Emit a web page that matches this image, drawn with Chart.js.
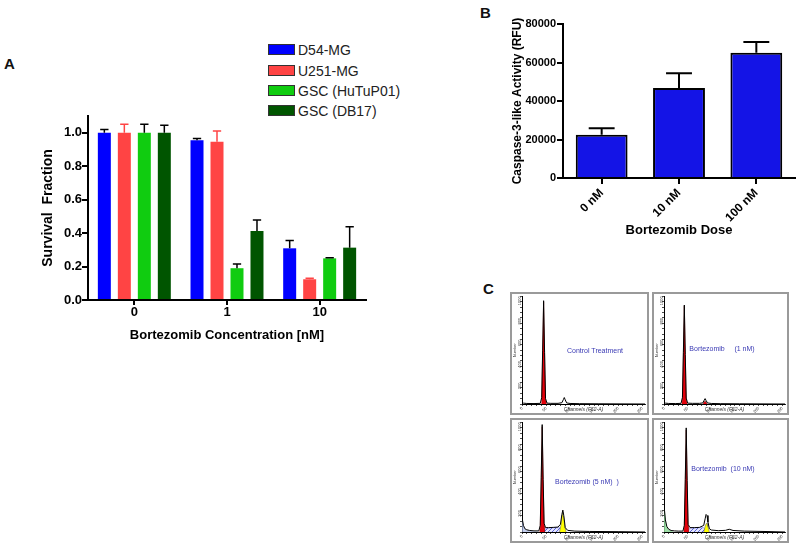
<!DOCTYPE html>
<html>
<head>
<meta charset="utf-8">
<script src="https://cdn.jsdelivr.net/npm/chart.js"></script>
<style>
body { margin: 0; background: #fff; width: 800px; height: 547px; position: relative; overflow: hidden; font-family: 'Liberation Sans', Arial, sans-serif; }
canvas { position: absolute; }
.letter { position: absolute; font-weight: bold; font-size: 15px; color: #111; }
.leg { position: absolute; left: 268px; height: 11px; display: flex; align-items: center; font-size: 14px; color: #222; white-space: nowrap; }
.leg span { display: inline-block; width: 25px; height: 9px; border: 1px solid #333; margin-right: 3px; }
.box { position: absolute; border: 2px solid #9a9a9a; box-sizing: border-box; }
.box canvas { left: 0; top: 0; }
.hlabel { position: absolute; font-size: 7px; color: #3a3ab4; white-space: pre; transform: translate(-50%, -50%); }
</style>
</head>
<body>
<div class="letter" style="left:4px;top:55px">A</div>
<div class="letter" style="left:480px;top:4px">B</div>
<div class="letter" style="left:483px;top:280px">C</div>

<div class="leg" style="top:44px"><span style="background:#0000ff"></span>D54-MG</div>
<div class="leg" style="top:65px"><span style="background:#ff4444"></span>U251-MG</div>
<div class="leg" style="top:85px"><span style="background:#10cc10"></span>GSC (HuTuP01)</div>
<div class="leg" style="top:105px"><span style="background:#005500"></span>GSC (DB17)</div>

<canvas id="chartA" width="400" height="250" style="left:0;top:100px"></canvas>
<canvas id="chartB" width="380" height="250" style="left:420px;top:0"></canvas>

<div class="box" style="left:510px;top:292px;width:139px;height:123px"><canvas id="h1" width="135" height="119"></canvas></div>
<div class="box" style="left:652px;top:292px;width:137px;height:123px"><canvas id="h2" width="133" height="119"></canvas></div>
<div class="box" style="left:510px;top:418px;width:139px;height:125px"><canvas id="h3" width="135" height="121"></canvas></div>
<div class="box" style="left:652px;top:418px;width:137px;height:125px"><canvas id="h4" width="133" height="121"></canvas></div>

<div class="hlabel" style="left:595px;top:350px">Control Treatment</div>
<div class="hlabel" style="left:722px;top:348px">Bortezomib     (1 nM)</div>
<div class="hlabel" style="left:587px;top:481px">Bortezomib (5 nM)  )</div>
<div class="hlabel" style="left:723px;top:468px">Bortezomib  (10 nM)</div>

<script>
// panel A - survival fraction
const concLabels = ['0', '1', '10'];
const d54 = [1.0, 0.955, 0.309];
const d54Err = [0.02, 0.011, 0.046];
const u251 = [1.0, 0.946, 0.124];
const u251Err = [0.05, 0.064, 0.006];
const hutu = [1.0, 0.19, 0.249];
const hutuErr = [0.05, 0.025, 0.004];
const db17 = [1.0, 0.412, 0.313];
const db17Err = [0.045, 0.066, 0.125];

// panel B - caspase activity
const doseLabels = ['0 nM', '10 nM', '100 nM'];
const caspase = [22500, 46700, 65100];
const caspaseErr = [3300, 7700, 5550];

// panel C - DNA histograms (channel, count)
const ctrlCh = [0, 3, 10, 25, 38, 41, 43, 45, 47, 49, 52, 60, 75, 83, 86, 88, 90, 93, 100, 120, 160, 256];
const ctrlCt = [15, 8, 5, 4, 6, 60, 500, 960, 480, 50, 8, 6, 6, 12, 40, 60, 38, 10, 5, 3, 2, 0];
const ctrlG1Ch = [40, 41, 43, 45, 47, 49, 51];
const ctrlG1Ct = [0, 55, 490, 950, 470, 45, 0];

const nm1Ch = [0, 3, 10, 25, 36, 39, 41, 43, 45, 47, 50, 60, 75, 82, 85, 87, 89, 92, 100, 120, 160, 256];
const nm1Ct = [12, 8, 5, 4, 6, 60, 480, 920, 460, 55, 8, 6, 6, 10, 35, 50, 33, 10, 5, 3, 2, 0];
const nm1G1Ch = [38, 39, 41, 43, 45, 47, 49];
const nm1G1Ct = [0, 55, 470, 910, 450, 50, 0];
const nm1G2Ch = [82, 85, 87, 89, 92];
const nm1G2Ct = [0, 20, 30, 18, 0];

const nm5Ch = [0, 1, 3, 6, 10, 16, 25, 35, 38, 40, 42, 44, 46, 49, 55, 65, 75, 80, 83, 85, 87, 90, 95, 110, 140, 200, 256];
const nm5Ct = [140, 110, 60, 30, 20, 14, 10, 10, 60, 500, 980, 480, 80, 40, 40, 42, 45, 70, 160, 200, 150, 40, 15, 8, 5, 3, 0];
const nm5G1Ch = [37, 38, 40, 42, 44, 46, 47];
const nm5G1Ct = [0, 50, 480, 960, 470, 60, 0];
const nm5SCh = [44, 50, 60, 70, 80, 86];
const nm5SCt = [0, 35, 38, 40, 38, 0];
const nm5G2Ch = [78, 81, 83, 85, 87, 89, 92];
const nm5G2Ct = [0, 60, 140, 180, 130, 50, 0];
const nm5DebCh = [0, 1, 3, 6, 10, 16, 25, 35];
const nm5DebCt = [130, 100, 55, 25, 15, 10, 5, 0];

const nm10Ch = [0, 1, 3, 6, 10, 15, 22, 30, 40, 43, 45, 47, 49, 51, 55, 65, 75, 84, 87, 89, 91, 93, 96, 100, 115, 130, 138, 146, 170, 220, 256];
const nm10Ct = [240, 200, 110, 50, 25, 14, 10, 8, 8, 60, 480, 950, 470, 70, 40, 40, 42, 60, 120, 160, 150, 90, 30, 18, 12, 15, 25, 14, 8, 4, 0];
const nm10G1Ch = [42, 43, 45, 47, 49, 51, 52];
const nm10G1Ct = [0, 55, 460, 930, 450, 60, 0];
const nm10SCh = [49, 55, 65, 75, 85, 90];
const nm10SCt = [0, 35, 38, 40, 38, 0];
const nm10G2Ch = [84, 87, 89, 91, 93, 96];
const nm10G2Ct = [0, 50, 75, 80, 50, 0];
const nm10DebCh = [0, 1, 3, 6, 10, 15, 20];
const nm10DebCt = [230, 190, 100, 45, 20, 8, 0];

Chart.defaults.font.family = "'Liberation Sans', Arial, sans-serif";
Chart.defaults.color = '#000';

// upward error bars with a cap
const errorBars = {
  id: 'errorBars',
  afterDatasetsDraw(chart, args, opts) {
    const ctx = chart.ctx;
    const y = chart.scales.y;
    chart.data.datasets.forEach((ds, i) => {
      if (!ds.errors) return;
      chart.getDatasetMeta(i).data.forEach((bar, j) => {
        const top = y.getPixelForValue(ds.data[j] + ds.errors[j]);
        const half = bar.width * opts.cap;
        ctx.save();
        ctx.strokeStyle = ds.errorColor || '#000';
        ctx.lineWidth = opts.lineWidth;
        ctx.beginPath();
        ctx.moveTo(bar.x, bar.y);
        ctx.lineTo(bar.x, top);
        ctx.moveTo(bar.x - half, top);
        ctx.lineTo(bar.x + half, top);
        ctx.stroke();
        ctx.restore();
      });
    });
  }
};

const bold = s => ({ size: s, weight: 'bold' });

new Chart(document.getElementById('chartA'), {
  type: 'bar',
  data: {
    labels: concLabels,
    datasets: [
      { label: 'D54-MG', data: d54, errors: d54Err, errorColor: '#000', backgroundColor: '#0000ff' },
      { label: 'U251-MG', data: u251, errors: u251Err, errorColor: '#ff4444', backgroundColor: '#ff4444' },
      { label: 'GSC (HuTuP01)', data: hutu, errors: hutuErr, errorColor: '#000', backgroundColor: '#10cc10' },
      { label: 'GSC (DB17)', data: db17, errors: db17Err, errorColor: '#000', backgroundColor: '#005500' }
    ]
  },
  options: {
    responsive: false,
    animation: false,
    categoryPercentage: 0.863,
    barPercentage: 0.65,
    layout: { padding: { left: 0, right: 34, top: 16, bottom: 0 } },
    plugins: { legend: { display: false }, tooltip: { enabled: false }, errorBars: { cap: 0.32, lineWidth: 1.5 } },
    scales: {
      x: {
        grid: { drawOnChartArea: false, offset: false, color: '#000', lineWidth: 2, tickLength: 5 },
        border: { color: '#000', width: 2 },
        ticks: { padding: 0, font: bold(13) },
        title: { display: true, text: 'Bortezomib Concentration [nM]', font: bold(13), padding: { top: 0, bottom: 7 } },
        afterFit: s => { s.height = 50; }
      },
      y: {
        min: 0, max: 1.1,
        ticks: { stepSize: 0.2, includeBounds: false, padding: 0, font: bold(13), callback: v => v.toFixed(1) },
        grid: { drawOnChartArea: false, color: '#000', lineWidth: 2, tickLength: 6 },
        border: { color: '#000', width: 2 },
        title: { display: true, text: 'Survival  Fraction', font: bold(14), padding: { top: 40, bottom: 0 } },
        afterFit: s => { s.width = 88; }
      }
    }
  },
  plugins: [errorBars]
});

new Chart(document.getElementById('chartB'), {
  type: 'bar',
  data: {
    labels: doseLabels,
    datasets: [
      { data: caspase, errors: caspaseErr, errorColor: '#000', backgroundColor: '#1414e6', borderColor: '#000', borderWidth: 2 }
    ]
  },
  options: {
    responsive: false,
    animation: false,
    categoryPercentage: 1,
    barPercentage: 0.67,
    layout: { padding: { left: 0, right: 5, top: 24, bottom: 0 } },
    plugins: { legend: { display: false }, tooltip: { enabled: false }, errorBars: { cap: 0.25, lineWidth: 2 } },
    scales: {
      x: {
        grid: { drawOnChartArea: false, offset: false, color: '#000', lineWidth: 2, tickLength: 6 },
        border: { color: '#000', width: 2 },
        ticks: { padding: 2, minRotation: 45, maxRotation: 45, font: bold(12) },
        title: { display: true, text: 'Bortezomib Dose', font: bold(13), padding: { top: 0, bottom: 12 } },
        afterFit: s => { s.height = 72; }
      },
      y: {
        min: 0, max: 80000,
        ticks: { stepSize: 20000, padding: 1, font: bold(11), callback: v => String(v) },
        grid: { drawOnChartArea: false, color: '#000', lineWidth: 2, tickLength: 6 },
        border: { color: '#000', width: 2 },
        title: { display: true, text: 'Caspase-3-like Activity (RFU)', font: bold(12), padding: { top: 90, bottom: 0 } },
        afterFit: s => { s.width = 143; }
      }
    }
  },
  plugins: [errorBars]
});

const pts = (xs, ys) => xs.map((x, i) => ({ x: x, y: ys[i] }));

function hist(id, h) {
  const cv = document.getElementById(id);
  const tile = document.createElement('canvas');
  tile.width = 4; tile.height = 4;
  const g = tile.getContext('2d');
  g.fillStyle = '#e4e6ff'; g.fillRect(0, 0, 4, 4);
  g.strokeStyle = '#5a64d8'; g.lineWidth = 1;
  g.beginPath(); g.moveTo(0, 4); g.lineTo(4, 0); g.stroke();
  const hatch = cv.getContext('2d').createPattern(tile, 'repeat');

  const ds = [{ data: pts(h.ch, h.ct), borderColor: '#000', borderWidth: 1, fill: false }];
  if (h.g1) ds.push({ data: pts(h.g1[0], h.g1[1]), borderColor: '#a00', borderWidth: 0.5, backgroundColor: '#e3000b', fill: 'origin' });
  if (h.g2) ds.push({ data: pts(h.g2[0], h.g2[1]), borderColor: '#555', borderWidth: 0.5, backgroundColor: h.g2c, fill: 'origin' });
  if (h.s) ds.push({ data: pts(h.s[0], h.s[1]), borderColor: '#5a64d8', borderWidth: 0.5, backgroundColor: hatch, fill: 'origin' });
  if (h.deb) ds.push({ data: pts(h.deb[0], h.deb[1]), borderColor: h.debc, borderWidth: 0.5, backgroundColor: h.debc, fill: 'origin' });

  new Chart(cv, {
    type: 'line',
    data: { datasets: ds },
    options: {
      responsive: false,
      animation: false,
      elements: { point: { radius: 0 }, line: { tension: 0 } },
      layout: { padding: { left: 0, right: 2, top: 1, bottom: 0 } },
      plugins: { legend: { display: false }, tooltip: { enabled: false } },
      scales: {
        x: {
          type: 'linear', min: 0, max: 256,
          afterBuildTicks: s => { s.ticks = []; for (let v = 0; v <= 250; v += 10) s.ticks.push({ value: v }); },
          ticks: { autoSkip: false, padding: 0, color: '#333', font: { size: 4 }, callback: v => (v % 50 === 0 ? v : '') },
          grid: { drawOnChartArea: false, color: '#000', lineWidth: 0.7, tickLength: 2 },
          border: { color: '#000', width: 1 },
          title: { display: true, text: 'Channels (FL2-A)', color: '#333', font: { size: 5, style: 'italic' }, padding: 0 },
          afterFit: s => { s.height = 9; }
        },
        y: {
          min: 0, max: 1000,
          afterBuildTicks: s => { s.ticks = []; for (let v = 0; v <= 1000; v += 50) s.ticks.push({ value: v }); },
          ticks: { autoSkip: false, padding: 0, minRotation: 90, maxRotation: 90, color: '#333', font: { size: 4 }, callback: v => (v % 200 === 0 && v > 0 ? v : '') },
          grid: { drawOnChartArea: false, color: '#000', lineWidth: 0.7, tickLength: 2 },
          border: { color: '#000', width: 1 },
          title: { display: true, text: 'Number', color: '#333', font: { size: 4 }, padding: 0 },
          afterFit: s => { s.width = 10; }
        }
      }
    }
  });
}

hist('h1', { ch: ctrlCh, ct: ctrlCt, g1: [ctrlG1Ch, ctrlG1Ct] });
hist('h2', { ch: nm1Ch, ct: nm1Ct, g1: [nm1G1Ch, nm1G1Ct], g2: [nm1G2Ch, nm1G2Ct], g2c: '#e3000b' });
hist('h3', { ch: nm5Ch, ct: nm5Ct, g1: [nm5G1Ch, nm5G1Ct], g2: [nm5G2Ch, nm5G2Ct], g2c: '#ffff00',
  s: [nm5SCh, nm5SCt], deb: [nm5DebCh, nm5DebCt], debc: 'rgba(170,185,230,0.7)' });
hist('h4', { ch: nm10Ch, ct: nm10Ct, g1: [nm10G1Ch, nm10G1Ct], g2: [nm10G2Ch, nm10G2Ct], g2c: '#ffff00',
  s: [nm10SCh, nm10SCt], deb: [nm10DebCh, nm10DebCt], debc: 'rgba(140,215,150,0.85)' });
</script>
</body>
</html>
